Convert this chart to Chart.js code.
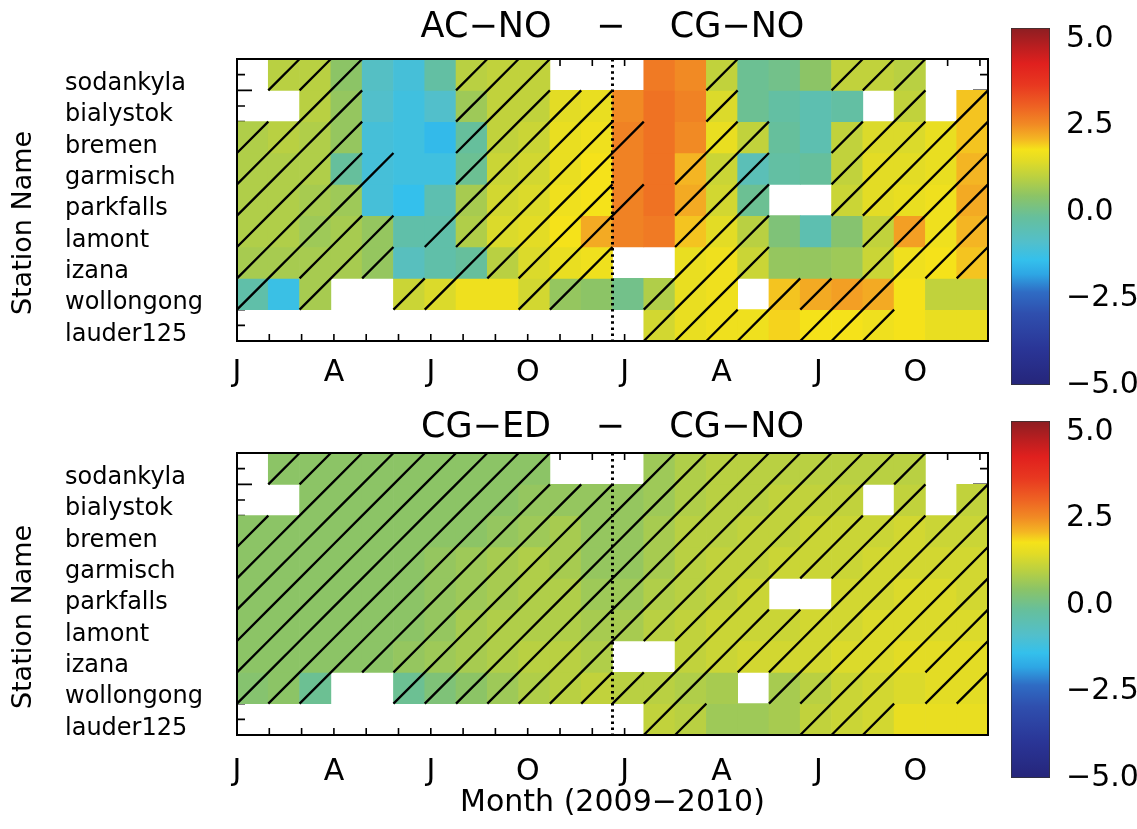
<!DOCTYPE html>
<html><head><meta charset="utf-8">
<script src="https://cdn.jsdelivr.net/npm/chart.js@4.4.0/dist/chart.umd.min.js"></script>
<style>
html,body{margin:0;padding:0;background:#fff;}
body{width:1137px;height:829px;position:relative;overflow:hidden;}
canvas{position:absolute;}
</style></head><body>
<canvas id="hmTop" width="1000" height="395" style="left:0;top:0"></canvas>
<canvas id="cbTop" width="137" height="395" style="left:1000px;top:0"></canvas>
<canvas id="hmBot" width="1000" height="434" style="left:0;top:395px"></canvas>
<canvas id="cbBot" width="137" height="434" style="left:1000px;top:395px"></canvas>
<script>
// ---------------- data ----------------
const months = ['Jan 2009','Feb 2009','Mar 2009','Apr 2009','May 2009','Jun 2009','Jul 2009','Aug 2009','Sep 2009','Oct 2009','Nov 2009','Dec 2009',
                'Jan 2010','Feb 2010','Mar 2010','Apr 2010','May 2010','Jun 2010','Jul 2010','Aug 2010','Sep 2010','Oct 2010','Nov 2010','Dec 2010'];
const stations = ['sodankyla','bialystok','bremen','garmisch','parkfalls','lamont','izana','wollongong','lauder125'];
const monthTickValues = [0,3,6,9,12,15,18,21];
const monthTickLabels = ['J','A','J','O','J','A','J','O'];
const cbTickValues = [5, 2.5, 0, -2.5, -5];
const cbTickLabels = ['5.0','2.5','0.0','\u22122.5','\u22125.0'];
const cbRange = [-5, 5];

// AC-NO minus CG-NO (rows = stations, 24 months Jan 2009 .. Dec 2010), null = no data
const topValues = [
  [null,0.8,0.8,0.3,-0.9,-1.2,-0.4,0.8,0.9,0.9,null,null,  null,2.5,2.3,0.9,-0.2,-0.1,0.3,0.9,0.9,0.8,null,null],
  [null,null,0.8,0.4,-1.0,-1.3,-1.0,0.5,0.9,0.9,1.3,1.4,   2.3,2.6,2.4,1.2,-0.2,-0.4,-0.6,-0.4,null,0.9,null,1.8],
  [0.7,0.8,0.7,0.4,-1.2,-1.3,-1.6,-0.3,0.9,1.0,1.4,1.5,    2.4,2.6,2.3,1.4,0.9,-0.3,-0.6,0.9,1.2,1.2,1.4,1.8],
  [0.7,0.7,0.7,-0.3,-1.2,-1.3,-1.3,-0.2,1.0,1.1,1.4,1.6,   2.4,2.6,1.9,1.0,-0.7,-0.4,-0.3,0.9,1.3,1.3,1.4,1.9],
  [0.7,0.7,0.6,0.5,-1.2,-1.5,-0.6,0.6,1.1,1.2,1.5,1.6,     2.4,2.6,2.0,1.1,-0.2,null,null,1.0,1.3,1.4,1.5,2.0],
  [0.7,0.7,0.5,0.6,0.4,-0.5,-0.5,0.7,1.2,1.3,1.6,2.0,      2.4,2.5,1.8,1.3,0.8,0.1,-0.6,0.2,0.9,2.1,1.5,1.9],
  [0.6,0.6,0.6,0.6,0.4,-0.8,-0.5,-0.3,0.8,1.2,1.4,1.5,     null,null,1.4,1.5,1.0,0.4,0.4,0.5,1.0,1.5,1.6,1.8],
  [-0.5,-1.4,0.6,null,null,1.0,1.2,1.5,1.5,1.1,0.4,0.3,    -0.1,0.7,1.4,1.5,null,1.8,2.0,2.1,2.0,1.6,0.9,0.9],
  [null,null,null,null,null,null,null,null,null,null,null,null, null,1.1,1.4,1.5,1.5,1.7,1.6,1.6,1.5,1.6,1.4,1.4]
];
// hatched (1) cells of the top panel
const topHatch = [
  '011100011100000100011100',
  '001100011111000100000101',
  '111100011111100110011111',
  '111110011111001110011111',
  '111100011111101110011111',
  '111110111111001110001111',
  '111110011111001110001111',
  '101001100110011101111000',
  '000000000000011110111000'
];

// CG-ED minus CG-NO
const botValues = [
  [null,0.3,0.3,0.3,0.3,0.3,0.3,0.3,0.3,0.3,null,null,     null,0.5,0.7,0.8,0.8,0.8,0.8,0.8,0.8,0.8,null,null],
  [null,null,0.3,0.3,0.3,0.3,0.3,0.3,0.3,0.4,0.4,0.4,      0.4,0.5,0.7,0.8,0.8,0.9,0.9,0.9,null,0.9,null,0.9],
  [0.3,0.3,0.3,0.3,0.3,0.3,0.3,0.3,0.4,0.5,0.6,0.4,        0.4,0.6,0.8,0.8,0.9,0.9,1.0,1.0,1.0,1.1,1.0,1.0],
  [0.3,0.3,0.3,0.3,0.3,0.3,0.4,0.5,0.6,0.7,0.6,0.4,        0.4,0.6,0.8,0.9,0.9,1.0,1.0,1.0,1.1,1.1,1.1,1.1],
  [0.3,0.3,0.3,0.3,0.3,0.3,0.4,0.5,0.6,0.7,0.7,0.5,        0.5,0.7,0.8,0.9,1.0,null,null,1.1,1.1,1.2,1.2,1.1],
  [0.3,0.3,0.3,0.3,0.3,0.3,0.4,0.6,0.7,0.7,0.7,0.6,        0.6,0.8,0.9,1.0,1.0,1.0,1.1,1.1,1.2,1.2,1.2,1.2],
  [0.3,0.3,0.3,0.3,0.3,0.4,0.5,0.6,0.7,0.8,0.8,0.7,        null,null,0.9,1.0,1.1,1.1,1.1,1.2,1.2,1.3,1.3,1.3],
  [0.2,0.3,-0.2,null,null,-0.2,0.1,0.3,0.5,0.7,0.8,0.9,    0.8,0.8,0.7,0.6,null,0.6,0.8,1.0,1.1,1.2,1.3,1.3],
  [null,null,null,null,null,null,null,null,null,null,null,null, null,0.9,0.8,0.5,0.5,0.6,0.9,1.0,1.1,1.4,1.4,1.4]
];
const botHatch = [
  '011111111100011111111100',
  '001111111111111111110101',
  '111111111111111111111111',
  '111111111111111111111111',
  '111111111111111111111111',
  '111111111111111111111111',
  '111111111111111111111111',
  '111001111111111001111011',
  '000000000000011000111000'
];

// ---------------- colour map ----------------
const cmapStops  = [-5, -4, -3, -2.4, -1.9, -1.5, -1.0, -0.3, 0.3, 0.8, 1.3, 1.6, 1.9, 2.3, 2.8, 3.4, 4.0, 4.5, 5];
const cmapColors = ['#25257a','#2a3596','#2f4fae','#2f6cc4','#2ea6e4','#34c0ec','#52bfcb','#66bf9c','#8cc466','#b9d042',
                    '#e3dc25','#f5e21a','#f4b523','#f18a24','#ee6223','#e83820','#e0201e','#b81e20','#8c1e22'];
function hexToRgb(h){ const n = parseInt(h.slice(1),16); return [(n>>16)&255,(n>>8)&255,n&255]; }
function cmap(v){
  if (v <= cmapStops[0]) return cmapColors[0];
  for (let i = 1; i < cmapStops.length; i++) {
    if (v <= cmapStops[i]) {
      const t = (v - cmapStops[i-1]) / (cmapStops[i] - cmapStops[i-1]);
      const a = hexToRgb(cmapColors[i-1]), b = hexToRgb(cmapColors[i]);
      return 'rgb(' + a.map((x,k) => Math.round(x + (b[k]-x)*t)).join(',') + ')';
    }
  }
  return cmapColors[cmapColors.length-1];
}

const FONT = 'DejaVu Sans';
function noPad(s) { s.paddingTop = 0; s.paddingBottom = 0; s.paddingLeft = 0; s.paddingRight = 0; }

// ---------------- decoration plugin ----------------
const decor = {
  id: 'decor',
  beforeDatasetsDraw(chart, args, opts) {
    const {ctx, chartArea: a, scales} = chart;
    const xt = scales.xt, y = scales.y;
    ctx.save();
    ctx.strokeStyle = '#000';
    ctx.lineWidth = 1.6;
    ctx.beginPath();
    for (let v = 0; v <= 23; v++) {
      const px = xt.getPixelForValue(v);
      ctx.moveTo(px, a.bottom); ctx.lineTo(px, a.bottom - 7);
      ctx.moveTo(px, a.top); ctx.lineTo(px, a.top + 7);
    }
    for (let k = 0; k <= 18; k++) {
      const py = y.getPixelForValue(k / 2);
      const len = (k % 4 === 2) ? 15 : 8;
      ctx.moveTo(a.left, py); ctx.lineTo(a.left + len, py);
      ctx.moveTo(a.right, py); ctx.lineTo(a.right - len, py);
    }
    ctx.stroke();
    ctx.restore();
  },
  afterDatasetsDraw(chart, args, opts) {
    const {ctx, chartArea: a, scales} = chart;
    ctx.save();
    // hatching: diagonal of every flagged cell
    ctx.beginPath();
    opts.hatch.forEach((row, r) => {
      const meta = chart.getDatasetMeta(r);
      const ds = chart.data.datasets[r].data;
      for (let c = 0; c < row.length; c++) {
        if (row[c] !== '1' || ds[c] == null) continue;
        const el = meta.data[c];
        const p = el.getProps(['x','y','base','width'], true);
        const top = Math.min(p.y, p.base), bot = Math.max(p.y, p.base);
        ctx.moveTo(p.x - p.width/2, bot);
        ctx.lineTo(p.x + p.width/2, top);
      }
    });
    ctx.strokeStyle = '#000';
    ctx.lineWidth = 2.3;
    ctx.stroke();
    // dotted year separator
    const xs = scales.x;
    const xd = (xs.getPixelForValue(11) + xs.getPixelForValue(12)) / 2;
    ctx.beginPath();
    ctx.setLineDash([2.5, 3.6]);
    ctx.lineWidth = 3;
    ctx.moveTo(xd, a.top); ctx.lineTo(xd, a.bottom);
    ctx.stroke();
    ctx.setLineDash([]);
    // frame
    ctx.lineWidth = 2;
    ctx.strokeRect(a.left, a.top, a.width, a.height);
    ctx.restore();
  },
  afterDraw(chart, args, opts) {
    const {ctx, chartArea: a} = chart;
    ctx.save();
    ctx.translate(24, (a.top + a.bottom) / 2 + 23);
    ctx.rotate(-Math.PI / 2);
    ctx.font = '27px "' + FONT + '"';
    ctx.fillStyle = '#000';
    ctx.textAlign = 'center';
    ctx.textBaseline = 'middle';
    ctx.fillText(opts.yTitle, 0, 0);
    ctx.restore();
  }
};

function makeHeatmap(id, titleText, vals, hatch, cfg) {
  const datasets = vals.map((row, r) => ({
    label: stations[r],
    data: row.map(v => v == null ? null : [r, r + 1]),
    backgroundColor: row.map(v => v == null ? 'rgba(0,0,0,0)' : cmap(v)),
    borderWidth: 0,
    barPercentage: 1,
    categoryPercentage: 1,
    grouped: false
  }));
  return new Chart(document.getElementById(id), {
    type: 'bar',
    data: { labels: months, datasets },
    options: {
      responsive: false,
      animation: false,
      events: [],
      layout: { padding: { left: 65, right: 12, top: 0, bottom: 0 } },
      plugins: {
        legend: { display: false },
        tooltip: { enabled: false },
        title: { display: true, text: titleText, fullSize: false, color: '#000',
                 font: { family: FONT, size: 35, weight: 'normal', lineHeight: 1 }, padding: cfg.titlePad },
        decor: { hatch: hatch, yTitle: 'Station Name' }
      },
      scales: {
        x: { type: 'category', display: false, offset: true },
        y: { type: 'linear', min: 0, max: 9, reverse: true, position: 'left', beginAtZero: false,
             afterFit: s => { s.width = 172; noPad(s); },
             afterBuildTicks: s => { s.ticks = stations.map((_, i) => ({ value: i + 0.5 })); },
             ticks: { autoSkip: false, crossAlign: 'far', labelOffset: 9, color: '#000',
                      font: { family: FONT, size: 24 }, callback: (v, i) => stations[i] },
             grid: { display: false }, border: { display: false } },
        xt: { type: 'linear', position: 'bottom', min: 0, max: 23.25, offset: false,
              afterFit: s => { s.height = cfg.xHeight; noPad(s); },
              afterBuildTicks: s => { s.ticks = monthTickValues.map(v => ({ value: v })); },
              ticks: { autoSkip: false, maxRotation: 0, minRotation: 0, padding: cfg.tickPad, color: '#000',
                       font: { family: FONT, size: 30 }, callback: (v, i) => monthTickLabels[i] },
              grid: { display: false, offset: false }, border: { display: false },
              title: cfg.xTitle }
      }
    },
    plugins: [decor]
  });
}

function makeColorbar(id, padTop, padBottom) {
  return new Chart(document.getElementById(id), {
    type: 'bar',
    data: { labels: ['scale'], datasets: [{
      data: [cbRange],
      backgroundColor: (c) => {
        const ch = c.chart;
        if (!ch.chartArea) return 'rgba(0,0,0,0)';
        const ys = ch.scales.y;
        const g = ch.ctx.createLinearGradient(0, ys.getPixelForValue(cbRange[0]), 0, ys.getPixelForValue(cbRange[1]));
        cmapStops.forEach((v, i) => g.addColorStop((v - cbRange[0]) / (cbRange[1] - cbRange[0]), cmapColors[i]));
        return g;
      },
      borderColor: '#333', borderWidth: 1, borderSkipped: false,
      barPercentage: 1, categoryPercentage: 1
    }] },
    options: {
      responsive: false, animation: false, events: [],
      layout: { padding: { left: 11, right: 0, top: padTop, bottom: padBottom } },
      plugins: { legend: { display: false }, tooltip: { enabled: false } },
      scales: {
        x: { display: false },
        y: { display: false, min: cbRange[0], max: cbRange[1], beginAtZero: false },
        yl: { position: 'right', min: -5, max: 5.32, beginAtZero: false,
              afterBuildTicks: s => { s.ticks = cbTickValues.map(v => ({ value: v })); },
              afterFit: s => { s.width = 87; noPad(s); },
              ticks: { autoSkip: false, padding: 8, color: '#000', font: { family: FONT, size: 30 },
                       callback: (v, i) => cbTickLabels[i] },
              grid: { display: false }, border: { display: false } }
      }
    }
  });
}

makeHeatmap('hmTop', 'AC\u2212NO    \u2212    CG\u2212NO', topValues, topHatch,
  { titlePad: { top: 10, bottom: 14 }, xHeight: 54, tickPad: 6, xTitle: { display: false } });
makeHeatmap('hmBot', 'CG\u2212ED    \u2212    CG\u2212NO', botValues, botHatch,
  { titlePad: { top: 15.5, bottom: 7.5 }, xHeight: 94, tickPad: 11,
    xTitle: { display: true, text: 'Month (2009\u22122010)', color: '#000',
              font: { family: FONT, size: 30, lineHeight: 1.2 }, padding: { top: 0, bottom: 8 } } });
makeColorbar('cbTop', 28, 10);
makeColorbar('cbBot', 26, 51);
</script>
</body></html>
